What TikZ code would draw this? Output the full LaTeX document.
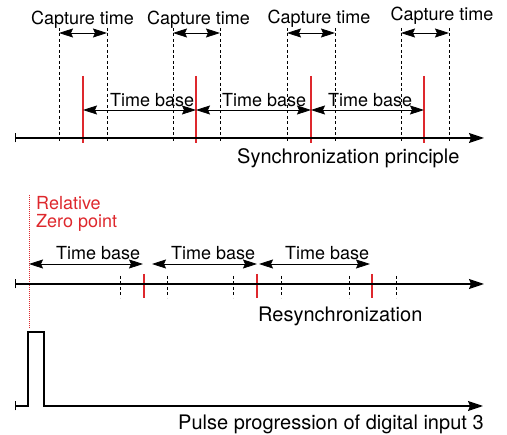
\documentclass[tikz,border=0pt]{standalone}
\usepackage{fontspec}
\setmainfont{TeX Gyre Heros}
\usetikzlibrary{arrows.meta,calc}
\definecolor{zred}{RGB}{222,40,45}
\begin{document}
\begin{tikzpicture}[x=1pt,y=-1pt,
  axis/.style={line width=1.2pt,{Bar[width=9pt,line width=1.2pt]}-{Stealth[length=15pt,width=10pt,inset=2pt]}},
  dim/.style={line width=0.8pt,{Stealth[length=14pt,width=9pt,inset=2pt]}-{Stealth[length=14pt,width=9pt,inset=2pt]}},
  guide/.style={line width=0.6pt,dash pattern=on 3pt off 2.5pt},
  redmark/.style={zred,line width=1.2pt},
  lbl/.style={font=\fontsize{18}{20}\selectfont,inner sep=0pt},
  big/.style={font=\fontsize{20}{22}\selectfont,inner sep=0pt}
]
\useasboundingbox (0,0) rectangle (507,435);

% ---------- Synchronization principle ----------
\foreach \n/\x in {a/59,b/107,c/173,d/220,e/287,f/335,g/401,h/449}{
  \coordinate (g\n t) at (\x,28);
  \coordinate (g\n b) at (\x,143);
  \draw[guide] (g\n t) -- (g\n b);
}
\foreach \n/\x in {1/83,2/196,3/311,4/424}{
  \coordinate (r\n t) at (\x,76);
  \coordinate (r\n b) at (\x,143);
  \coordinate (r\n m) at (\x,110);
  \draw[redmark] (r\n t) -- (r\n b);
}
\coordinate (ax1s) at (15,138);
\coordinate (ax1e) at (484,138);
\draw[axis] (ax1s) -- (ax1e);

\foreach \p/\q in {a/b,c/d,e/f,g/h}{
  \draw[dim] ($(g\p t)+(0,5)$) -- ($(g\q t)+(0,5)$);
}
\draw[dim] (r1m) -- (r2m);
\draw[dim] (r2m) -- (r3m);
\draw[dim] (r3m) -- (r4m);

\node[lbl,anchor=base] (ct1) at (82.5,25) {Capture time};
\node[lbl,anchor=base] (ct2) at (198.5,25) {Capture time};
\node[lbl,anchor=base] (ct3) at (319,24) {Capture time};
\node[lbl,anchor=base] (ct4) at (442,21) {Capture time};
\node[lbl,anchor=base west] (tb1) at (110,107) {Time base};
\node[lbl,anchor=base west] (tb2) at (222,107) {Time base};
\node[lbl,anchor=base west] (tb3) at (328,107) {Time base};
\node[big,anchor=base west] (sp) at (237,164) {Synchronization principle};

% ---------- Resynchronization ----------
\coordinate (zt) at (29,195);
\coordinate (zb) at (29,328);
\draw[zred,line width=1pt,dash pattern=on 1pt off 1pt] (zt) -- (zb);
\node[lbl,text=zred,anchor=base west] (rz1) at (36,210) {Relative};
\node[lbl,text=zred,anchor=base west] (rz2) at (36,228) {Zero point};

\foreach \n/\x in {1/120,2/167,3/233,4/281,5/349,6/396}{
  \coordinate (m\n t) at (\x,276);
  \coordinate (m\n b) at (\x,298);
  \draw[guide] (m\n t) -- (m\n b);
}
\foreach \n/\x in {1/144,2/257,3/372}{
  \coordinate (s\n t) at (\x,274);
  \coordinate (s\n b) at (\x,298);
  \draw[redmark] (s\n t) -- (s\n b);
}
\coordinate (ax2s) at (15,284);
\coordinate (ax2e) at (484,284);
\draw[axis] (ax2s) -- (ax2e);

\coordinate (ta0) at (29,264);
\coordinate (ta1) at (143,264);
\coordinate (ta2) at (152,264);
\coordinate (ta3) at (257,264);
\coordinate (ta4) at (259,264);
\coordinate (ta5) at (370,264);
\draw[dim] (ta0) -- (ta1);
\draw[dim] (ta2) -- (ta3);
\draw[dim] (ta4) -- (ta5);
\node[lbl,anchor=base west] (mb1) at (56,260) {Time base};
\node[lbl,anchor=base west] (mb2) at (171,260) {Time base};
\node[lbl,anchor=base west] (mb3) at (285,260) {Time base};
\node[big,anchor=base west] (rs) at (258,322) {Resynchronization};

% ---------- Pulse ----------
\coordinate (p0) at (15,406);
\coordinate (p1) at (28,406);
\coordinate (p2) at (28,332);
\coordinate (p3) at (44,332);
\coordinate (p4) at (44,406);
\coordinate (p5) at (483,406);
\draw[line width=1.2pt,{Bar[width=9pt,line width=1.2pt]}-{Stealth[length=15pt,width=10pt,inset=2pt]}]
  (p0) -- (p1) -- (p2) -- (p3) -- (p4) -- (p5);
\node[big,anchor=base west] (pp) at (178,430) {Pulse progression of digital input 3};
\end{tikzpicture}
\end{document}
